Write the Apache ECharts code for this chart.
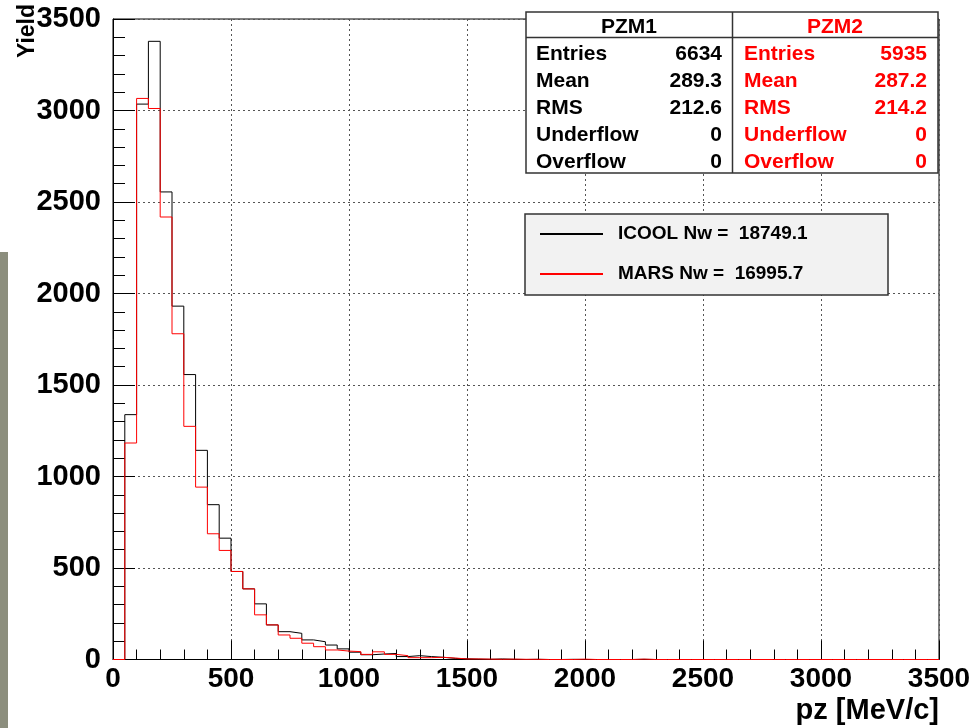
<!DOCTYPE html>
<html>
<head>
<meta charset="utf-8">
<script src="https://cdn.jsdelivr.net/npm/echarts@6/dist/echarts.min.js"></script>
<style>
  html, body { margin: 0; padding: 0; background: #fff; }
  #chart { width: 977px; height: 728px; }
</style>
</head>
<body>
<div id="chart"></div>
<script>
// histogram, 50 MeV/c bins from 0 to 3500
const binWidth = 50
const icoolCounts = [
  0, 1338, 3035, 3378, 2555, 1931, 1557, 1143, 846, 663, 481, 386, 304, 189, 152, 143, 107, 97, 79, 58,
  40, 26, 30, 33, 16, 21, 16, 12, 6, 4, 2, 1, 3, 1, 0, 1, 0, 0, 1, 0,
  0, 0, 0, 0, 1, 0, 0, 0, 0, 0, 0, 0, 0, 0, 0, 0, 0, 0, 0, 0,
  0, 0, 0, 0, 0, 0, 0, 0, 0, 0
]
const marsCounts = [
  0, 1183, 3066, 3011, 2418, 1780, 1274, 942, 687, 596, 481, 386, 244, 189, 134, 116, 89, 70, 52, 46,
  43, 28, 42, 28, 21, 10, 10, 12, 8, 3, 3, 2, 1, 2, 1, 1, 0, 0, 0, 2,
  0, 0, 0, 0, 2, 0, 0, 0, 0, 0, 0, 0, 0, 0, 0, 0, 0, 0, 0, 0,
  0, 0, 0, 0, 0, 0, 0, 0, 0, 0
]
const seriesNames = ['ICOOL Nw =  18749.1', 'MARS Nw =  16995.7']

// stats boxes
const statLabels = ['Entries', 'Mean', 'RMS', 'Underflow', 'Overflow']
const pzm1Stats = ['6634', '289.3', '212.6', '0', '0']
const pzm2Stats = ['5935', '287.2', '214.2', '0', '0']

const FONT = '"Liberation Sans", Arial, Helvetica, sans-serif'

function toSteps(counts) {
  const pts = counts.map((v, i) => [i * binWidth, v])
  pts.push([counts.length * binWidth, counts[counts.length - 1]])
  return pts
}

function txt(text, x, y, color, align) {
  return {
    type: 'text', z: 6,
    style: {
      text: text, x: x, y: y, fill: color,
      font: 'bold 21px ' + FONT,
      textAlign: align, textVerticalAlign: 'middle'
    }
  }
}

const rowY = [54.5, 81.5, 108.5, 135.5, 162]
const statGraphics = [
  { type: 'rect', z: 5, shape: { x: 526, y: 12, width: 412, height: 161 },
    style: { fill: '#fff', stroke: '#333', lineWidth: 1.5 } },
  { type: 'line', z: 5, shape: { x1: 732.5, y1: 12, x2: 732.5, y2: 173 },
    style: { stroke: '#333', lineWidth: 1.5 } },
  { type: 'line', z: 5, shape: { x1: 526, y1: 37.5, x2: 938, y2: 37.5 },
    style: { stroke: '#333', lineWidth: 1.5 } },
  txt('PZM1', 629, 27, '#000', 'center'),
  txt('PZM2', 835, 27, '#ff0000', 'center')
]
statLabels.forEach((lab, i) => {
  statGraphics.push(txt(lab, 536, rowY[i], '#000', 'left'))
  statGraphics.push(txt(pzm1Stats[i], 722, rowY[i], '#000', 'right'))
  statGraphics.push(txt(lab, 744, rowY[i], '#ff0000', 'left'))
  statGraphics.push(txt(pzm2Stats[i], 927, rowY[i], '#ff0000', 'right'))
})

const plainNum = v => String(v)

const chart = echarts.init(document.getElementById('chart'))
chart.setOption({
  animation: false,
  backgroundColor: '#fff',
  textStyle: { fontFamily: FONT },
  grid: {
    left: 113, right: 38, top: 19, bottom: 68.5,
    show: true, borderColor: '#000', borderWidth: 1
  },
  legend: {
    orient: 'vertical',
    left: 539, top: 224,
    padding: 0,
    itemWidth: 63, itemHeight: 14, itemGap: 20,
    selectedMode: false,
    z: 4,
    itemStyle: { opacity: 0 },
    textStyle: {
      fontFamily: FONT, fontSize: 19, fontWeight: 'bold', color: '#000',
      padding: [0, 0, 0, 10], lineHeight: 20
    },
    data: seriesNames
  },
  xAxis: {
    type: 'value', min: 0, max: 3500, interval: 500,
    axisLine: { show: true, onZero: false, lineStyle: { color: '#000', width: 1 } },
    axisTick: { show: true, inside: true, length: 19, lineStyle: { color: '#000' } },
    minorTick: { show: true, splitNumber: 5, length: 10, lineStyle: { color: '#000' } },
    axisLabel: { fontFamily: FONT, fontSize: 28, fontWeight: 'bold', color: '#000', margin: 6,
      formatter: plainNum },
    splitLine: { show: true, lineStyle: { color: '#555', type: [2, 3], width: 1 } }
  },
  yAxis: {
    type: 'value', min: 0, max: 3500, interval: 500,
    axisLine: { show: true, lineStyle: { color: '#000', width: 1 } },
    axisTick: { show: true, inside: true, length: 22, lineStyle: { color: '#000' } },
    minorTick: { show: true, splitNumber: 5, length: 12, lineStyle: { color: '#000' } },
    axisLabel: { fontFamily: FONT, fontSize: 29, fontWeight: 'bold', color: '#000', margin: 12,
      formatter: plainNum },
    splitLine: { show: true, lineStyle: { color: '#555', type: [2, 3], width: 1 } }
  },
  graphic: [
    { type: 'rect', z: 1, shape: { x: 0, y: 252, width: 8, height: 476 },
      style: { fill: '#8c8e7d' } },
    { type: 'rect', z: 3, shape: { x: 525, y: 214, width: 363, height: 81 },
      style: { fill: '#f2f2f2', stroke: '#333', lineWidth: 1.5 } },
    { type: 'text', z: 6, x: 28, y: 31, rotation: Math.PI / 2,
      style: { text: 'Yield', font: 'bold 23px ' + FONT, fill: '#000',
        textAlign: 'center', textVerticalAlign: 'middle' } },
    { type: 'text', z: 6,
      style: { text: 'pz [MeV/c]', x: 939, y: 711, font: 'bold 29px ' + FONT, fill: '#000',
        textAlign: 'right', textVerticalAlign: 'middle' } }
  ].concat(statGraphics),
  series: [
    {
      name: seriesNames[0], type: 'line', step: 'end', symbol: 'none',
      lineStyle: { color: '#000', width: 1 }, itemStyle: { color: '#000' },
      data: toSteps(icoolCounts)
    },
    {
      name: seriesNames[1], type: 'line', step: 'end', symbol: 'none',
      lineStyle: { color: '#ff0000', width: 1 }, itemStyle: { color: '#ff0000' },
      data: toSteps(marsCounts)
    }
  ]
})
</script>
</body>
</html>
